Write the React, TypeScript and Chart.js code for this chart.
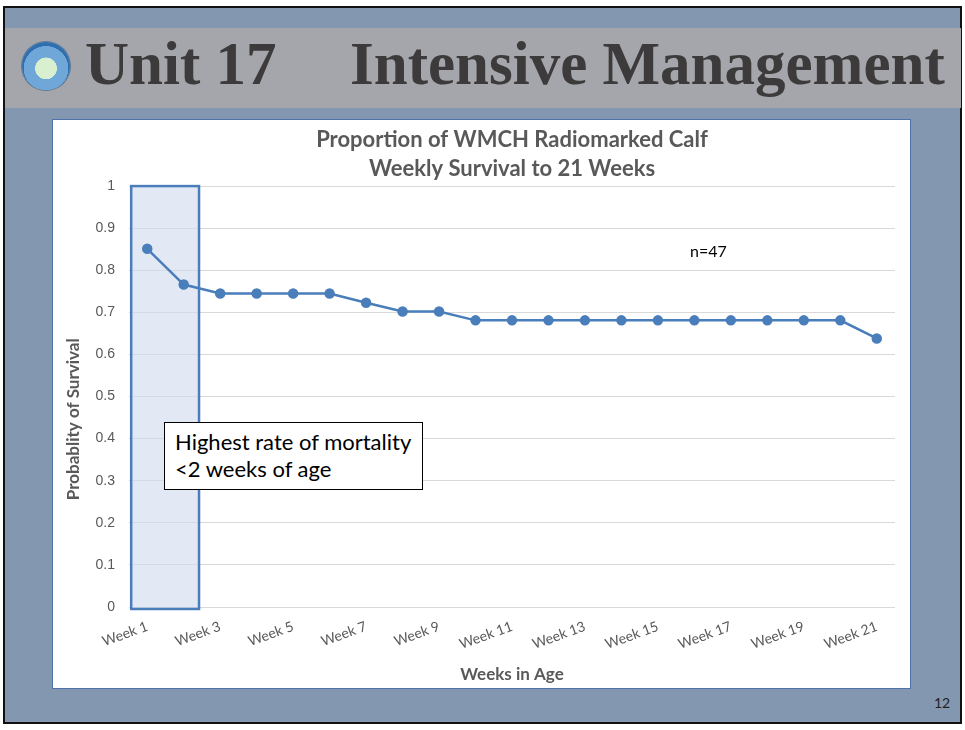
import React, { useEffect, useRef } from "react";
import { Chart, registerables } from "chart.js";

Chart.register(...registerables);

const weeks = [
  "Week 1", "Week 2", "Week 3", "Week 4", "Week 5", "Week 6", "Week 7",
  "Week 8", "Week 9", "Week 10", "Week 11", "Week 12", "Week 13", "Week 14",
  "Week 15", "Week 16", "Week 17", "Week 18", "Week 19", "Week 20", "Week 21",
];
const survival = [
  0.851, 0.766, 0.745, 0.745, 0.745, 0.745, 0.723, 0.702, 0.702, 0.681, 0.681,
  0.681, 0.681, 0.681, 0.681, 0.681, 0.681, 0.681, 0.681, 0.681, 0.638,
];
const yTickLabels = ["0", "0.1", "0.2", "0.3", "0.4", "0.5", "0.6", "0.7", "0.8", "0.9", "1"];
const chartTitle = ["Proportion of WMCH Radiomarked Calf", "Weekly Survival to 21 Weeks"];
const xAxisTitle = "Weeks in Age";
const yAxisTitle = "Probablity of Survival";
// highlighted band, in data units (category index / probability)
const highlightX = [-0.44, 1.42];
const highlightY = [0, 1];

const highlightPlugin = {
  id: "highlightBand",
  beforeDatasetsDraw(chart: any) {
    const { ctx, scales } = chart;
    const x0 = scales.x.getPixelForValue(highlightX[0]);
    const x1 = scales.x.getPixelForValue(highlightX[1]);
    const y0 = scales.y.getPixelForValue(highlightY[1]);
    const y1 = scales.y.getPixelForValue(highlightY[0]);
    ctx.save();
    ctx.fillStyle = "rgba(207,219,239,0.6)";
    ctx.fillRect(x0, y0, x1 - x0, y1 - y0 + 2);
    ctx.strokeStyle = "#4A7EBB";
    ctx.lineWidth = 2.5;
    ctx.strokeRect(x0, y0, x1 - x0, y1 - y0 + 2);
    ctx.restore();
  },
};

function SurvivalChart() {
  const ref = useRef<HTMLCanvasElement>(null);
  useEffect(() => {
    if (!ref.current) return;
    const chart = new Chart(ref.current, {
      type: "line",
      data: {
        labels: weeks,
        datasets: [
          {
            data: survival,
            borderColor: "#4A7EBB",
            backgroundColor: "#4A7EBB",
            borderWidth: 2.5,
            pointRadius: 4,
            pointBackgroundColor: "#4A7EBB",
            pointBorderColor: "#4A7EBB",
            tension: 0,
          },
        ],
      },
      options: {
        animation: false,
        responsive: false,
        layout: { padding: { left: 0, right: 15, top: 0, bottom: 0 } },
        plugins: {
          legend: { display: false },
          tooltip: { enabled: false },
          title: {
            display: true,
            text: chartTitle,
            color: "#595959",
            fullSize: false,
            font: { family: "Lato", size: 22, weight: "bold", lineHeight: 1.32 },
            padding: { top: 5.5, bottom: 2.5 },
          },
        },
        scales: {
          x: {
            type: "category",
            offset: true,
            grid: { display: false, drawTicks: false },
            border: { display: false },
            ticks: {
              autoSkip: false,
              minRotation: 20,
              maxRotation: 20,
              padding: 11,
              color: "#595959",
              font: { family: "Lato", size: 14 },
              callback: (_v: any, i: number) => (i % 2 === 0 ? weeks[i] : ""),
            },
            title: {
              display: true,
              text: xAxisTitle,
              color: "#595959",
              font: { family: "Lato", size: 17, weight: "bold" },
              padding: { top: 4, bottom: 3 },
            },
            afterFit: (s: any) => {
              s.height = 81;
            },
          },
          y: {
            min: 0,
            max: 1,
            grid: { color: "#D9D9D9", drawTicks: false, lineWidth: 1 },
            border: { display: false },
            ticks: {
              stepSize: 0.1,
              padding: 14,
              color: "#595959",
              font: { family: "Liberation Sans", size: 14 },
              callback: (_v: any, i: number) => yTickLabels[i],
            },
            title: {
              display: true,
              text: yAxisTitle + "\u00a0".repeat(11),
              color: "#595959",
              font: { family: "Lato", size: 17, weight: "bold" },
              padding: { top: 10, bottom: 0 },
            },
            afterFit: (s: any) => {
              s.width = 76;
            },
          },
        },
      },
      plugins: [highlightPlugin],
    } as any);
    return () => chart.destroy();
  }, []);
  return <canvas ref={ref} width={857} height={568} style={{ display: "block" }} />;
}

export default function App() {
  return (
    <div style={{ position: "fixed", left: 0, top: 0, width: 965, height: 730, background: "#ffffff", overflow: "hidden" }}>
      <div
        style={{
          position: "absolute",
          left: 3,
          top: 6,
          width: 959,
          height: 718,
          boxSizing: "border-box",
          border: "2.5px solid #111",
          background: "#8497B0",
        }}
      />
      {/* title band */}
      <div style={{ position: "absolute", left: 5, top: 28, width: 956, height: 80, background: "#A5A6AB" }} />
      {/* logo */}
      <div
        style={{
          position: "absolute",
          left: 22,
          top: 42,
          width: 48,
          height: 48,
          borderRadius: "50%",
          background: "radial-gradient(circle at 50% 55%, #d8f0d0 0 30%, #6fa8d8 31% 62%, #2f6fb0 63% 78%, #d9c86a 79% 100%)",
          boxShadow: "0 0 0 1px #5a7a9a",
        }}
      />
      <div
        style={{
          position: "absolute",
          left: 85,
          top: 22,
          fontFamily: "'Liberation Serif', serif",
          fontWeight: "bold",
          fontSize: 61,
          color: "#3C3A3A",
          whiteSpace: "nowrap",
          lineHeight: "84px",
        }}
      >
        Unit 17
      </div>
      <div
        style={{
          position: "absolute",
          left: 350,
          top: 22,
          fontFamily: "'Liberation Serif', serif",
          fontWeight: "bold",
          fontSize: 61,
          color: "#3C3A3A",
          whiteSpace: "nowrap",
          lineHeight: "84px",
        }}
      >
        Intensive Management
      </div>
      {/* chart card */}
      <div
        style={{
          position: "absolute",
          left: 52,
          top: 119,
          width: 857,
          height: 568,
          border: "1px solid #4F73A8",
          background: "#ffffff",
        }}
      >
        <SurvivalChart />
        <div
          style={{
            position: "absolute",
            left: 637,
            top: 120,
            fontFamily: "Lato, sans-serif",
            fontSize: 16,
            color: "#000",
            lineHeight: "22px",
          }}
        >
          n=47
        </div>
        <div
          style={{
            position: "absolute",
            left: 111,
            top: 302,
            width: 259,
            height: 68,
            boxSizing: "border-box",
            border: "1px solid #000",
            background: "#fff",
            fontFamily: "Lato, sans-serif",
            fontSize: 22,
            lineHeight: "27px",
            color: "#000",
            padding: "5px 0 0 10px",
            whiteSpace: "nowrap",
          }}
        >
          Highest rate of mortality
          <br />
          &lt;2 weeks of age
        </div>
      </div>
      <div
        style={{
          position: "absolute",
          left: 934,
          top: 694,
          fontFamily: "Lato, sans-serif",
          fontSize: 14,
          color: "#222",
        }}
      >
        12
      </div>
    </div>
  );
}
